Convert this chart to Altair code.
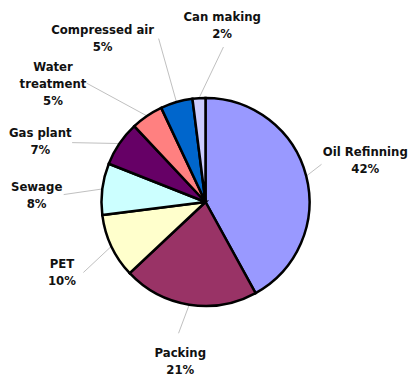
import altair as alt
import numpy as np
import pandas as pd

# Share of each application (percent)
categories = ["Oil Refinning", "Packing", "PET", "Sewage", "Gas plant",
              "Water treatment", "Compressed air", "Can making"]
shares = [42, 21, 10, 8, 7, 5, 5, 2]
label_names = ["Oil Refinning", "Packing", "PET", "Sewage", "Gas plant",
               "Water\ntreatment", "Compressed air", "Can making"]

# Slice fills
colors = ["#9999FF", "#993366", "#FFFFCC", "#CCFFFF", "#660066",
          "#FF8080", "#0066CC", "#CCCCFF"]

# Label layout: angle shift from slice middle (deg) and distance from centre (px)
label_shift = [0, 0, -1, -5, -14, -18, -16, 9]
label_radius = [165, 161, 160, 169, 176, 193, 193, 177]
# Leader line end points, same convention
leader_shift = [-3.6, 2.6, -4.8, -4.2, -10.2, -10.8, 0.2, 10.2]
leader_radius = [122, 134, 141, 142, 146, 168, 170, 156]

PIE_R = 104
W, H, TOP = 411, 352, 26
LINE_H = 17

df = pd.DataFrame({"category": categories, "share": shares,
                   "label": [f"{n}\n{s}%" for n, s in zip(label_names, shares)],
                   "idx": range(len(categories))})
total = df["share"].sum()
mid = (df["share"].cumsum() - df["share"] / 2) / total * 360.0

lab_a = np.radians(mid + np.array(label_shift))
n_lines = df["label"].str.count("\n") + 1
df["lx"] = np.array(label_radius) * np.sin(lab_a)
# first line sits at the anchor, so lift it to centre the whole block
df["ly"] = np.array(label_radius) * np.cos(lab_a) + (n_lines - 1) * LINE_H / 2

rows = []
for i, c in enumerate(categories):
    a0 = np.radians(mid[i])
    a1 = np.radians(mid[i] + leader_shift[i])
    rows.append({"category": c, "k": 0, "x": PIE_R * np.sin(a0), "y": PIE_R * np.cos(a0)})
    rows.append({"category": c, "k": 1, "x": leader_radius[i] * np.sin(a1),
                 "y": leader_radius[i] * np.cos(a1)})
leaders = pd.DataFrame(rows)

xs = alt.Scale(domain=[-W / 2, W / 2], nice=False, zero=False)
ys = alt.Scale(domain=[-H / 2, H / 2], nice=False, zero=False)

lines = alt.Chart(leaders).mark_line(color="#c0c0c0", strokeWidth=1).encode(
    x=alt.X("x:Q", scale=xs, axis=None),
    y=alt.Y("y:Q", scale=ys, axis=None),
    detail="category:N",
    order="k:Q",
)

pie = alt.Chart(df).mark_arc(radius=PIE_R, stroke="black", strokeWidth=2.5).encode(
    theta=alt.Theta("share:Q", stack=True),
    color=alt.Color("category:N", scale=alt.Scale(domain=categories, range=colors), legend=None),
    order=alt.Order("idx:Q"),
)

labels = alt.Chart(df).mark_text(
    font="DejaVu Sans Condensed, Liberation Sans, sans-serif", fontSize=13, fontWeight="bold",
    color="#111111", align="center", baseline="middle", lineBreak="\n", lineHeight=LINE_H,
).encode(
    x=alt.X("lx:Q", scale=xs, axis=None),
    y=alt.Y("ly:Q", scale=ys, axis=None),
    text="label:N",
)

chart = alt.layer(lines, pie, labels).properties(
    width=W, height=H,
    autosize="none",
    padding={"left": 0, "right": 0, "top": TOP, "bottom": 0},
    background="white",
).configure_view(stroke=None)

chart.save("out.html", embed_options={"renderer": "svg", "actions": False})
